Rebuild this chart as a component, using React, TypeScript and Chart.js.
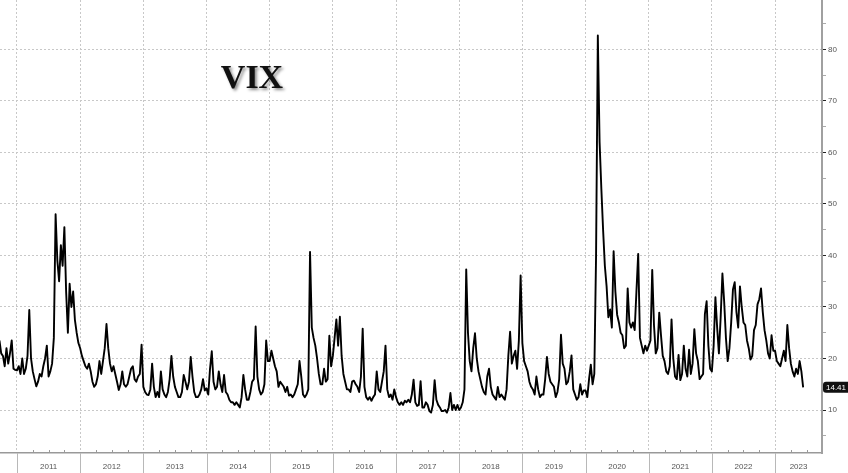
import React, { useEffect, useRef } from 'react';
import { Chart, registerables } from 'chart.js';

Chart.register(...registerables);

// VIX closes, roughly every 10 days (36 slots per year). 2010 starts at slot 26.
const vix2010 = [23.5, 21.0, 20.5, 18.5, 22.0, 19.0, 21.0, 23.5, 18.0, 17.8];
const vix2011 = [17.7, 18.5, 17.0, 20.0, 17.0, 18.0, 20.5, 29.4, 20.0, 17.5, 16.0, 14.6, 15.5, 17.0, 16.5, 18.5, 20.0, 22.5, 16.5, 17.5, 19.0, 24.0, 48.0, 39.0, 35.0, 42.0, 38.0, 45.5, 33.0, 25.0, 34.5, 30.0, 33.0, 27.5, 25.0, 23.0];
const vix2012 = [22.0, 20.5, 19.5, 18.5, 18.0, 19.0, 17.5, 15.5, 14.5, 15.0, 16.5, 19.5, 17.0, 19.5, 22.0, 26.7, 22.0, 19.0, 17.5, 18.5, 17.0, 15.5, 13.9, 15.0, 17.5, 15.0, 14.5, 15.0, 16.5, 18.0, 18.5, 16.0, 15.5, 16.5, 17.0, 22.7];
const vix2013 = [14.5, 13.5, 13.0, 12.9, 14.0, 19.0, 14.5, 12.5, 13.5, 12.5, 17.5, 14.0, 13.0, 12.5, 13.5, 16.0, 20.5, 16.5, 14.5, 13.5, 12.5, 12.5, 13.5, 16.8, 15.5, 14.0, 15.5, 20.3, 16.5, 13.5, 12.5, 12.5, 13.0, 14.0, 16.0, 13.8];
const vix2014 = [14.2, 13.0, 18.0, 21.4, 15.5, 14.0, 14.5, 17.5, 15.0, 13.5, 16.8, 13.5, 13.0, 12.0, 11.5, 11.5, 11.0, 11.5, 11.0, 10.5, 12.5, 16.8, 14.0, 12.0, 12.0, 13.5, 15.5, 16.0, 26.2, 16.5, 14.0, 13.0, 13.5, 15.0, 23.5, 19.5];
const vix2015 = [19.5, 21.5, 20.0, 18.5, 17.5, 14.5, 15.5, 15.0, 14.5, 13.5, 14.5, 12.8, 13.0, 12.5, 13.0, 14.0, 15.0, 19.5, 16.5, 13.0, 12.5, 13.0, 14.0, 40.7, 26.0, 24.0, 22.5, 20.0, 17.0, 15.0, 15.0, 18.0, 15.5, 16.0, 24.4, 18.5];
const vix2016 = [20.5, 24.0, 27.6, 22.5, 28.1, 20.5, 17.0, 15.5, 14.0, 14.0, 13.5, 15.5, 15.7, 15.0, 14.5, 13.5, 16.5, 25.8, 14.5, 12.5, 12.0, 12.5, 11.8, 12.5, 13.0, 17.5, 14.0, 13.5, 15.5, 17.5, 22.5, 14.0, 12.5, 13.0, 12.0, 14.0];
const vix2017 = [12.5, 11.5, 11.0, 11.5, 11.0, 11.8, 11.5, 12.0, 11.5, 13.0, 15.9, 11.5, 10.8, 11.0, 15.6, 10.5, 10.5, 11.5, 11.0, 9.8, 9.5, 11.0, 15.8, 12.0, 11.0, 10.5, 9.8, 9.8, 10.0, 9.5, 10.5, 13.3, 10.0, 11.0, 10.0, 11.0];
const vix2018 = [10.0, 10.5, 11.5, 14.0, 37.3, 25.0, 19.5, 17.5, 22.0, 24.9, 20.0, 17.5, 16.0, 14.5, 13.5, 13.0, 16.5, 18.0, 14.5, 13.0, 12.5, 12.0, 14.5, 12.5, 13.0, 12.5, 12.0, 14.0, 20.5, 25.2, 19.0, 20.5, 21.5, 18.0, 23.5, 36.1];
const vix2019 = [23.0, 19.5, 18.5, 17.5, 15.5, 14.5, 14.0, 13.0, 16.5, 14.0, 12.5, 13.0, 13.0, 16.0, 20.3, 17.0, 15.5, 15.0, 14.5, 12.5, 13.5, 16.0, 24.6, 19.0, 18.0, 15.0, 15.5, 17.5, 20.6, 14.0, 13.0, 12.0, 12.5, 15.0, 13.0, 13.8];
const vix2020 = [13.8, 12.5, 16.0, 18.8, 15.0, 17.0, 40.1, 82.7, 62.0, 53.0, 45.0, 38.0, 34.0, 28.0, 29.5, 26.0, 40.8, 33.0, 28.5, 27.0, 25.0, 24.5, 22.0, 22.5, 33.6, 27.0, 26.0, 27.0, 25.5, 33.0, 40.3, 24.0, 22.5, 21.0, 22.5, 21.5];
const vix2021 = [22.5, 23.5, 37.2, 26.5, 21.0, 22.0, 28.9, 24.5, 20.5, 19.5, 17.5, 17.0, 18.5, 27.6, 20.0, 16.5, 16.0, 20.7, 15.8, 17.0, 22.5, 18.0, 16.5, 21.7, 17.0, 19.0, 25.7, 21.0, 19.5, 16.0, 16.5, 17.0, 28.6, 31.1, 22.5, 18.0];
const vix2022 = [17.5, 22.5, 31.9, 26.0, 21.0, 28.0, 36.5, 31.0, 24.0, 19.5, 22.0, 27.0, 33.4, 34.8, 29.0, 26.0, 34.0, 30.0, 27.0, 26.5, 23.5, 22.0, 19.8, 20.5, 25.5, 26.5, 30.5, 31.5, 33.6, 29.0, 25.5, 23.5, 21.0, 20.0, 24.5, 21.5];
const vix2023 = [21.5, 19.5, 19.0, 18.5, 20.0, 21.5, 19.5, 26.5, 22.0, 19.0, 17.5, 16.5, 18.0, 17.0, 19.5, 17.5, 14.41];

const yearSeries: [number, number[], number][] = [
  [2010, vix2010, 26], [2011, vix2011, 0], [2012, vix2012, 0], [2013, vix2013, 0],
  [2014, vix2014, 0], [2015, vix2015, 0], [2016, vix2016, 0], [2017, vix2017, 0],
  [2018, vix2018, 0], [2019, vix2019, 0], [2020, vix2020, 0], [2021, vix2021, 0],
  [2022, vix2022, 0], [2023, vix2023, 0],
];

const yearLabels = ['2011', '2012', '2013', '2014', '2015', '2016', '2017', '2018', '2019', '2020', '2021', '2022', '2023'];
const yTicks = [5, 10, 15, 20, 25, 30, 35, 40, 45, 50, 55, 60, 65, 70, 75, 80, 85];
const titleText = 'VIX';
const lastValueLabel = '14.41';

const X_MIN = 2010.731;
const X_MAX = 2023.743;
const Y_MIN = 1.66;
const Y_MAX = 89.57;

const points = yearSeries.flatMap(([yr, arr, start]) =>
  arr.map((v, i) => ({ x: yr + (start + i) / 36, y: v }))
);

const decor = {
  id: 'decor',
  afterDraw(chart: any) {
    const { ctx, chartArea, scales } = chart;
    const xs = scales.x;
    const ys = scales.y;
    ctx.save();
    // year separators below the axis
    ctx.strokeStyle = '#b8b8b8';
    ctx.lineWidth = 1;
    yearLabels.forEach((_, i) => {
      const px = Math.round(xs.getPixelForValue(2011 + i)) + 0.5;
      ctx.beginPath();
      ctx.moveTo(px, chartArea.bottom);
      ctx.lineTo(px, chart.height);
      ctx.stroke();
    });
    // quarterly minor ticks
    ctx.strokeStyle = '#999';
    for (let q = 2011; q < X_MAX; q += 0.25) {
      if (Math.abs(q - Math.round(q)) < 1e-6) continue;
      const px = Math.round(xs.getPixelForValue(q)) + 0.5;
      ctx.beginPath();
      ctx.moveTo(px, chartArea.bottom - 3);
      ctx.lineTo(px, chartArea.bottom);
      ctx.stroke();
    }
    // year labels
    ctx.fillStyle = '#555';
    ctx.font = '8px "Liberation Sans", Arial, sans-serif';
    ctx.textAlign = 'center';
    ctx.textBaseline = 'middle';
    yearLabels.forEach((lab, i) => {
      const a = xs.getPixelForValue(2011 + i);
      const b = Math.min(xs.getPixelForValue(2012 + i), chartArea.right);
      ctx.fillText(lab, (a + b) / 2, 467);
    });
    // last value box
    const last = vix2023[vix2023.length - 1];
    const py = ys.getPixelForValue(last);
    const bx = chartArea.right + 1;
    const bw = chart.width - bx;
    ctx.fillStyle = '#111';
    ctx.beginPath();
    if ((ctx as any).roundRect) (ctx as any).roundRect(bx, py - 5.5, bw + 4, 11, 3);
    else ctx.rect(bx, py - 5.5, bw, 11);
    ctx.fill();
    ctx.fillStyle = '#fff';
    ctx.textAlign = 'left';
    ctx.font = '8px "Liberation Sans", Arial, sans-serif';
    ctx.fillText(lastValueLabel, bx + 3, py + 0.5);
    // title
    ctx.shadowColor = 'rgba(0,0,0,0.45)';
    ctx.shadowBlur = 3;
    ctx.shadowOffsetX = 2;
    ctx.shadowOffsetY = 2;
    ctx.fillStyle = '#111';
    ctx.font = 'bold 34px "Liberation Serif", "Times New Roman", serif';
    ctx.textAlign = 'center';
    ctx.textBaseline = 'alphabetic';
    ctx.fillText(titleText, 252, 88);
    ctx.restore();
  },
};

export default function App() {
  const ref = useRef<HTMLCanvasElement>(null);
  useEffect(() => {
    document.body.style.margin = '0';
    const isMajor = (c: any) => c.tick && c.tick.value % 10 === 0;
    const chart = new Chart(ref.current as HTMLCanvasElement, {
      type: 'line',
      data: {
        datasets: [
          {
            data: points,
            borderColor: '#000',
            borderWidth: 1.9,
            borderJoinStyle: 'round',
            pointRadius: 0,
            tension: 0,
            fill: false,
          },
        ],
      },
      options: {
        animation: false,
        responsive: false,
        devicePixelRatio: 1,
        layout: { padding: 0 },
        plugins: { legend: { display: false }, tooltip: { enabled: false }, title: { display: false } },
        scales: {
          x: {
            type: 'linear',
            position: 'bottom',
            min: X_MIN,
            max: X_MAX,
            afterBuildTicks: (s: any) => {
              s.ticks = yearLabels.map((_, i) => ({ value: 2011 + i }));
            },
            afterFit: (s: any) => {
              s.height = 20;
              s.paddingLeft = 0;
              s.paddingRight = 0;
            },
            ticks: { display: false },
            grid: { color: '#c8c8c8', lineWidth: 1, drawTicks: false },
            border: { display: true, color: '#999', width: 1.5, dash: [2, 2] },
          },
          y: {
            type: 'linear',
            position: 'right',
            min: Y_MIN,
            max: Y_MAX,
            afterBuildTicks: (s: any) => {
              s.ticks = yTicks.map((v) => ({ value: v }));
            },
            afterFit: (s: any) => {
              s.width = 26;
              s.paddingTop = 0;
              s.paddingBottom = 0;
            },
            ticks: {
              autoSkip: false,
              padding: 2,
              color: '#555',
              font: { size: 8, family: '"Liberation Sans", Arial, sans-serif' },
              callback: (v: any) => (Number(v) % 10 === 0 ? String(v) : ''),
            },
            grid: {
              color: (c: any) => (isMajor(c) ? '#c8c8c8' : 'rgba(0,0,0,0)'),
              tickColor: (c: any) => (isMajor(c) ? '#222' : '#aaa'),
              tickLength: 4,
              lineWidth: 1,
            },
            border: { display: true, color: '#a0a0a0', width: 2, dash: [2, 2] },
          },
        },
      },
      plugins: [decor],
    } as any);
    return () => chart.destroy();
  }, []);
  return (
    <div style={{ position: 'absolute', left: 0, top: 0, width: 848, height: 473 }}>
      <canvas ref={ref} width={848} height={473} />
    </div>
  );
}
